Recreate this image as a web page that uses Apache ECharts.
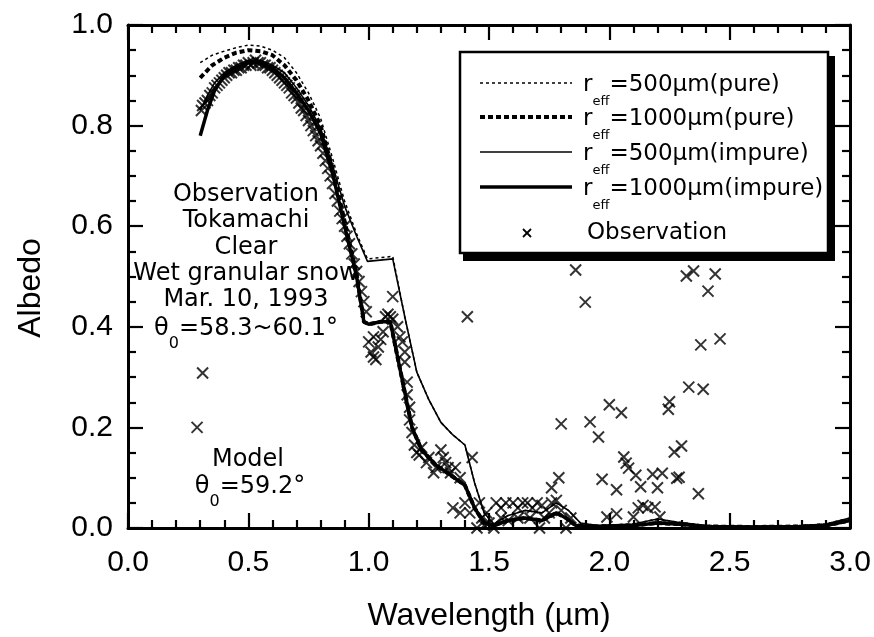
<!DOCTYPE html>
<html>
<head>
    <meta charset="utf-8">
    <title>Albedo</title>
    <script src="https://cdn.jsdelivr.net/npm/echarts@6/dist/echarts.min.js"></script>
</head>
<body style="margin:0;background:#fff;">
<div id="main" style="width: 874px;height:637px;"></div>
<script type="text/javascript">
    // model curves: wavelength (um) and albedo
    var wlImp500 = [0.30, 0.33, 0.36, 0.40, 0.45, 0.50, 0.55, 0.60, 0.65, 0.70, 0.75, 0.80, 0.85, 0.90, 0.95, 0.995, 1.10, 1.15, 1.20, 1.25, 1.30, 1.35, 1.40, 1.44, 1.48, 1.52, 1.58, 1.65, 1.72, 1.78, 1.83, 1.88, 1.95, 2.10, 2.20, 2.28, 2.40, 2.60, 2.80, 2.90, 3.00];
    var albImp500 = [0.83, 0.86, 0.885, 0.905, 0.92, 0.93, 0.93, 0.92, 0.905, 0.875, 0.84, 0.795, 0.72, 0.64, 0.58, 0.53, 0.535, 0.42, 0.31, 0.255, 0.21, 0.185, 0.165, 0.09, 0.03, 0.008, 0.025, 0.035, 0.03, 0.05, 0.035, 0.01, 0.005, 0.008, 0.018, 0.012, 0.005, 0.003, 0.005, 0.008, 0.02];

    var wlImp1000 = [0.30, 0.33, 0.36, 0.40, 0.45, 0.50, 0.55, 0.60, 0.65, 0.70, 0.75, 0.80, 0.85, 0.90, 0.95, 0.98, 1.00, 1.05, 1.09, 1.12, 1.15, 1.18, 1.22, 1.28, 1.34, 1.40, 1.44, 1.48, 1.52, 1.58, 1.65, 1.72, 1.78, 1.82, 1.86, 1.95, 2.10, 2.20, 2.28, 2.40, 2.60, 2.80, 2.90, 3.00];
    var albImp1000 = [0.78, 0.83, 0.87, 0.90, 0.915, 0.925, 0.925, 0.915, 0.895, 0.865, 0.83, 0.785, 0.705, 0.60, 0.50, 0.41, 0.405, 0.41, 0.41, 0.34, 0.27, 0.20, 0.155, 0.125, 0.105, 0.085, 0.04, 0.01, 0.005, 0.015, 0.02, 0.015, 0.03, 0.02, 0.005, 0.003, 0.005, 0.01, 0.008, 0.003, 0.002, 0.003, 0.005, 0.015];

    var wlPure500 = [0.30, 0.35, 0.40, 0.45, 0.50, 0.55, 0.60, 0.65, 0.70, 0.75, 0.80, 0.85, 0.90, 0.95, 0.995, 1.10, 1.15, 1.20, 1.25, 1.30, 1.35, 1.40, 1.44, 1.48, 1.52, 1.58, 1.65, 1.72, 1.78, 1.83, 1.88, 1.95, 2.10, 2.20, 2.28, 2.40, 2.60, 2.80, 2.90, 3.00];
    var albPure500 = [0.925, 0.94, 0.948, 0.955, 0.96, 0.958, 0.95, 0.935, 0.905, 0.865, 0.815, 0.735, 0.65, 0.585, 0.535, 0.54, 0.42, 0.31, 0.255, 0.21, 0.185, 0.165, 0.09, 0.03, 0.008, 0.025, 0.035, 0.03, 0.05, 0.035, 0.01, 0.005, 0.008, 0.018, 0.012, 0.005, 0.003, 0.005, 0.008, 0.02];

    var wlPure1000 = [0.30, 0.35, 0.40, 0.45, 0.50, 0.55, 0.60, 0.65, 0.70, 0.75, 0.80, 0.85, 0.90, 0.95, 0.98, 1.00, 1.05, 1.09, 1.12, 1.15, 1.18, 1.22, 1.28, 1.34, 1.40, 1.44, 1.48, 1.52, 1.58, 1.65, 1.72, 1.78, 1.82, 1.86, 1.95, 2.10, 2.20, 2.28, 2.40, 2.60, 2.80, 2.90, 3.00];
    var albPure1000 = [0.895, 0.92, 0.935, 0.945, 0.95, 0.948, 0.94, 0.92, 0.89, 0.85, 0.80, 0.715, 0.61, 0.505, 0.41, 0.405, 0.41, 0.41, 0.34, 0.27, 0.20, 0.155, 0.125, 0.105, 0.085, 0.04, 0.01, 0.005, 0.015, 0.02, 0.015, 0.03, 0.02, 0.005, 0.003, 0.005, 0.01, 0.008, 0.003, 0.002, 0.003, 0.005, 0.015];

    // observations
    var obsWl = [0.287, 0.31, 0.305, 0.31, 0.32, 0.33, 0.34, 0.35, 0.36, 0.37, 0.38, 0.39, 0.40, 0.41, 0.42, 0.43, 0.44, 0.45, 0.46, 0.47, 0.48, 0.49, 0.50, 0.51, 0.52, 0.53, 0.54, 0.55, 0.56, 0.57, 0.58, 0.59, 0.60, 0.61, 0.62, 0.63, 0.64, 0.65, 0.66, 0.67, 0.68, 0.69, 0.70, 0.71, 0.72, 0.73, 0.74, 0.75, 0.76, 0.77, 0.78, 0.79, 0.80, 0.81, 0.82, 0.83, 0.84, 0.85, 0.86, 0.87, 0.88, 0.89, 0.90, 0.91, 0.92, 0.93, 0.94, 0.95, 0.96, 0.97, 0.98, 0.99,
        1.00, 1.01, 1.02, 1.02, 1.03, 1.04, 1.05, 1.06, 1.07, 1.08, 1.09, 1.10, 1.10, 1.12, 1.13, 1.14, 1.15, 1.15, 1.16, 1.16, 1.17, 1.17, 1.18, 1.19, 1.20, 1.21, 1.22, 1.24, 1.25, 1.27, 1.28, 1.30, 1.31, 1.32, 1.33, 1.34, 1.36, 1.38, 1.43, 1.41, 1.35, 1.38, 1.40, 1.42, 1.46, 1.47, 1.49, 1.45, 1.48, 1.50, 1.52,
        1.53, 1.55, 1.57, 1.60, 1.62, 1.64, 1.66, 1.68, 1.70, 1.72, 1.55, 1.58, 1.62, 1.67, 1.71, 1.73, 1.75, 1.76, 1.76, 1.78, 1.79, 1.80, 1.82, 1.84, 1.80,
        1.86, 1.90, 2.32, 2.35, 2.44, 2.41, 2.46, 2.38, 2.33, 2.39, 2.25, 2.245, 2.00, 2.05, 1.92, 1.955, 2.30, 2.27, 2.06, 2.07, 2.08, 2.11, 1.97, 2.03, 2.13, 2.18, 2.22, 2.20, 2.28, 2.29, 2.37, 1.99, 2.03, 2.10, 2.12, 2.14, 2.16, 2.19, 2.21];
    var obsAlb = [0.20, 0.308, 0.83, 0.84, 0.845, 0.85, 0.86, 0.865, 0.875, 0.88, 0.885, 0.89, 0.895, 0.90, 0.905, 0.905, 0.91, 0.91, 0.915, 0.915, 0.92, 0.92, 0.925, 0.92, 0.925, 0.93, 0.925, 0.925, 0.92, 0.92, 0.915, 0.915, 0.91, 0.905, 0.90, 0.895, 0.89, 0.885, 0.88, 0.875, 0.865, 0.86, 0.855, 0.845, 0.835, 0.83, 0.82, 0.81, 0.80, 0.79, 0.78, 0.77, 0.76, 0.745, 0.73, 0.715, 0.70, 0.685, 0.665, 0.65, 0.63, 0.615, 0.60, 0.58, 0.565, 0.545, 0.525, 0.51, 0.49, 0.47, 0.45, 0.43,
        0.37, 0.35, 0.34, 0.38, 0.335, 0.36, 0.375, 0.39, 0.42, 0.425, 0.42, 0.415, 0.46, 0.40, 0.38, 0.37, 0.35, 0.33, 0.29, 0.265, 0.24, 0.215, 0.19, 0.165, 0.15, 0.145, 0.16, 0.13, 0.14, 0.11, 0.12, 0.155, 0.14, 0.13, 0.12, 0.11, 0.12, 0.10, 0.14, 0.42, 0.04, 0.03, 0.05, 0.03, 0.05, 0.02, 0.03, 0.0, 0.005, 0.01, 0.0,
        0.05, 0.04, 0.05, 0.05, 0.04, 0.05, 0.05, 0.04, 0.05, 0.045, 0.02, 0.015, 0.02, 0.02, 0.0, 0.02, 0.03, 0.05, 0.08, 0.055, 0.10, 0.035, 0.0, 0.02, 0.207,
        0.513, 0.449, 0.501, 0.511, 0.505, 0.471, 0.376, 0.364, 0.28, 0.276, 0.251, 0.236, 0.245, 0.229, 0.211, 0.181, 0.163, 0.151, 0.141, 0.129, 0.119, 0.105, 0.097, 0.076, 0.082, 0.107, 0.109, 0.08, 0.099, 0.101, 0.068, 0.022, 0.028, 0.022, 0.04, 0.045, 0.04, 0.042, 0.022];

    var xTicks = [0.0, 0.5, 1.0, 1.5, 2.0, 2.5, 3.0];
    var yTicks = [0.0, 0.2, 0.4, 0.6, 0.8, 1.0];

    function pairs(xs, ys) {
        var out = [];
        for (var i = 0; i < xs.length; i++) out.push([xs[i], ys[i]]);
        return out;
    }

    var FONT = 'Liberation Sans, Arial, Helvetica, sans-serif';
    var WIDE = 'DejaVu Sans, sans-serif';

    function frameAxis(pos, isX, showLabel) {
        return {
            type: 'value',
            position: pos,
            min: isX ? xTicks[0] : yTicks[0],
            max: isX ? xTicks[xTicks.length - 1] : yTicks[yTicks.length - 1],
            interval: isX ? 0.5 : 0.2,
            axisLine: {show: true, onZero: false, lineStyle: {color: '#000', width: 3}},
            axisTick: {show: true, inside: true, length: 15, lineStyle: {color: '#000', width: 2.2}},
            minorTick: {show: true, splitNumber: isX ? 5 : 4, length: 8, lineStyle: {color: '#000', width: 2.2}},
            splitLine: {show: false},
            axisLabel: {
                show: showLabel,
                color: '#000',
                fontFamily: FONT,
                fontSize: 30,
                margin: isX ? 20 : 15,
                formatter: function (v) { return v.toFixed(1); }
            }
        };
    }

    var xMain = frameAxis('bottom', true, true);
    xMain.name = 'Wavelength (\u00b5m)';
    xMain.nameLocation = 'middle';
    xMain.nameGap = 72;
    xMain.nameTextStyle = {color: '#000', fontFamily: FONT, fontSize: 32};

    var crossPath = 'path://M0,0L10,10M10,0L0,10';

    var subRich = {
        a: {fontFamily: WIDE, fontSize: 24, color: '#000'},
        s: {fontFamily: WIDE, fontSize: 16, color: '#000', padding: [30, 0, 0, 0]}
    };
    var legRich = {
        a: {fontFamily: WIDE, fontSize: 23, color: '#000'},
        s: {fontFamily: WIDE, fontSize: 13, color: '#000', padding: [34, 0, 0, 0]}
    };

    var noteLines = ['Observation', 'Tokamachi', 'Clear', 'Wet granular snow', 'Mar. 10, 1993'];
    var graphics = [];
    graphics.push({
        type: 'text', x: 31, y: 288, rotation: Math.PI / 2, z: 50,
        style: {text: 'Albedo', fill: '#000', font: '32px ' + FONT, textAlign: 'center', textVerticalAlign: 'middle'}
    });
    for (var i = 0; i < noteLines.length; i++) {
        graphics.push({
            type: 'text', x: 246, y: 195 + i * 26.2, z: 50,
            style: {text: noteLines[i], fill: '#000', font: '24px ' + WIDE, textAlign: 'center', textVerticalAlign: 'middle'}
        });
    }
    graphics.push({
        type: 'text', x: 246, y: 329, z: 50,
        style: {text: '{a|\u03b8}{s|0}{a|=58.3~60.1\u00b0}', rich: subRich, textAlign: 'center', textVerticalAlign: 'middle'}
    });
    graphics.push({
        type: 'text', x: 248, y: 460, z: 50,
        style: {text: 'Model', fill: '#000', font: '24px ' + WIDE, textAlign: 'center', textVerticalAlign: 'middle'}
    });
    graphics.push({
        type: 'text', x: 250, y: 487, z: 50,
        style: {text: '{a|\u03b8}{s|0}{a|=59.2\u00b0}', rich: subRich, textAlign: 'center', textVerticalAlign: 'middle'}
    });

    // legend box with drop shadow
    graphics.push({type: 'rect', z: 60, shape: {x: 463, y: 56, width: 372, height: 205}, style: {fill: '#000'}});
    graphics.push({type: 'rect', z: 61, shape: {x: 460, y: 52, width: 368, height: 201}, style: {fill: '#fff', stroke: '#000', lineWidth: 2.5}});

    var legItems = [
        {label: '=500\u00b5m(pure)', width: 1.5, dash: [3, 3]},
        {label: '=1000\u00b5m(pure)', width: 4, dash: [5, 3]},
        {label: '=500\u00b5m(impure)', width: 1.6, dash: null},
        {label: '=1000\u00b5m(impure)', width: 3.5, dash: null}
    ];
    var legY = [83, 117, 152, 187];
    for (var k = 0; k < legItems.length; k++) {
        graphics.push({
            type: 'line', z: 62,
            shape: {x1: 480, y1: legY[k], x2: 572, y2: legY[k]},
            style: {stroke: '#000', lineWidth: legItems[k].width, lineDash: legItems[k].dash}
        });
        graphics.push({
            type: 'text', x: 583, y: legY[k] + 2, z: 62,
            style: {text: '{a|r}{s|eff}{a|' + legItems[k].label + '}', rich: legRich, textVerticalAlign: 'middle'}
        });
    }
    graphics.push({type: 'line', z: 62, shape: {x1: 523, y1: 229, x2: 531, y2: 237}, style: {stroke: '#000', lineWidth: 1.8}});
    graphics.push({type: 'line', z: 62, shape: {x1: 531, y1: 229, x2: 523, y2: 237}, style: {stroke: '#000', lineWidth: 1.8}});
    graphics.push({
        type: 'text', x: 587, y: 233, z: 62,
        style: {text: 'Observation', fill: '#000', font: '23px ' + WIDE, textVerticalAlign: 'middle'}
    });

    var myChart = echarts.init(document.getElementById('main'));
    myChart.setOption({
        animation: false,
        backgroundColor: '#fff',
        grid: {left: 128, right: 24, top: 25, bottom: 109},
        xAxis: [xMain, frameAxis('top', true, false)],
        yAxis: [frameAxis('left', false, true), frameAxis('right', false, false)],
        series: [
            {
                name: 'obs', type: 'scatter', data: pairs(obsWl, obsAlb),
                symbol: crossPath, symbolSize: 11,
                itemStyle: {color: 'transparent', borderColor: '#000', borderWidth: 2}
            },
            {
                name: 'imp500', type: 'line', data: pairs(wlImp500, albImp500), showSymbol: false, symbol: 'none',
                lineStyle: {color: '#000', width: 1.6}
            },
            {
                name: 'imp1000', type: 'line', data: pairs(wlImp1000, albImp1000), showSymbol: false, symbol: 'none',
                lineStyle: {color: '#000', width: 3.5}
            },
            {
                name: 'pure500', type: 'line', data: pairs(wlPure500, albPure500), showSymbol: false, symbol: 'none',
                lineStyle: {color: '#000', width: 1.5, type: [3, 3]}
            },
            {
                name: 'pure1000', type: 'line', data: pairs(wlPure1000, albPure1000), showSymbol: false, symbol: 'none',
                lineStyle: {color: '#000', width: 4, type: [5, 3]}
            }
        ],
        graphic: graphics
    });
</script>
</body>
</html>
